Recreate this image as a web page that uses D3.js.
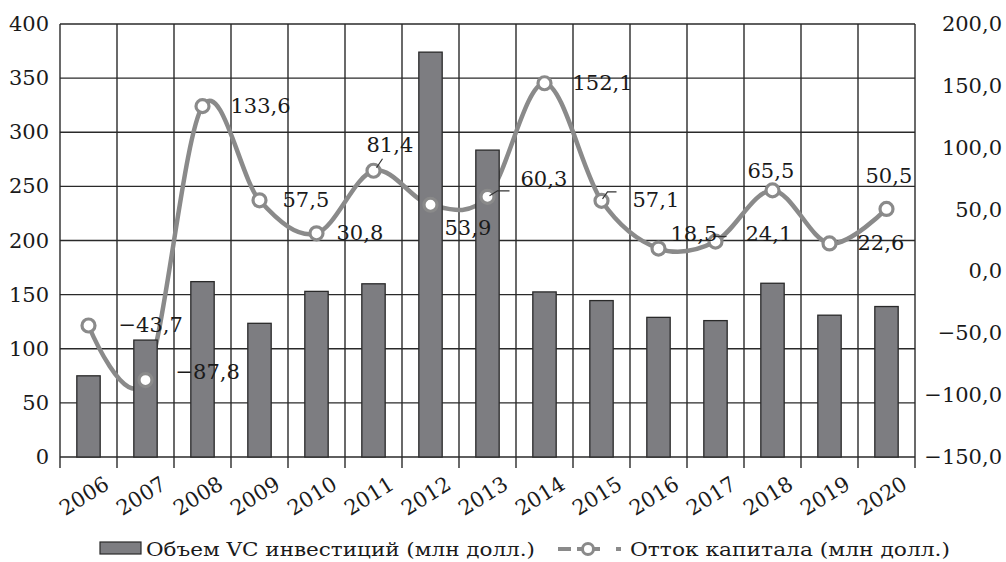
<!DOCTYPE html>
<html>
<head>
<meta charset="utf-8">
<script src="https://cdn.jsdelivr.net/npm/d3@7"></script>
<style>
  html, body { margin: 0; padding: 0; background: #fff; }
  svg { display: block; }
  text { font-family: "DejaVu Serif", serif; fill: #1a1a1a; }
</style>
</head>
<body>
<svg id="chart" width="1006" height="562"></svg>
<script>
// ---- data ----
const years = ["2006","2007","2008","2009","2010","2011","2012","2013","2014","2015","2016","2017","2018","2019","2020"];
const vcInvest = [75, 108, 162, 123.5, 153, 160, 374, 283.5, 152.5, 144.5, 129, 126, 160.5, 131, 139];
const outflow = [-43.7, -87.8, 133.6, 57.5, 30.8, 81.4, 53.9, 60.3, 152.1, 57.1, 18.5, 24.1, 65.5, 22.6, 50.5];
const leftTicks = [0, 50, 100, 150, 200, 250, 300, 350, 400];
const rightTicks = [-150, -100, -50, 0, 50, 100, 150, 200];
const seriesNames = ["Объем VC инвестиций (млн долл.)", "Отток капитала (млн долл.)"];

// label offsets (layout only)
const labelOffsets = [
  [30, 0], [30, -8], [28, 0], [23, 0], [20, 0], [-7, -26], [14, 23], [33, -18],
  [28, 0], [31, -1], [12, -15], [30, -8], [-25, -19], [28, 0], [-21, -33]
];

const fmt = v => (v < 0 ? "\u2212" : "") + Math.abs(v).toFixed(1).replace(".", ",");

// ---- layout ----
const svg = d3.select("#chart");
const L = 60, R = 915, T = 24, B = 457;

const x = d3.scaleBand().domain(years).range([L, R]).paddingInner(0).paddingOuter(0);
const yL = d3.scaleLinear().domain([0, 400]).range([B, T]);
const yR = d3.scaleLinear().domain([-150, 200]).range([B, T]);

const gridColor = "#2a2a2a";
const lineColor = "#8a8a8a";

// horizontal grid
svg.append("g").selectAll("line").data(leftTicks).join("line")
  .attr("x1", L).attr("x2", R)
  .attr("y1", d => yL(d)).attr("y2", d => yL(d))
  .attr("stroke", gridColor).attr("stroke-width", 1.4);

// vertical grid + ticks below
const bounds = years.map(d => x(d)).concat([R]);
svg.append("g").selectAll("line").data(bounds).join("line")
  .attr("x1", d => d).attr("x2", d => d)
  .attr("y1", T).attr("y2", B + 11)
  .attr("stroke", gridColor).attr("stroke-width", 1.4);

// line (drawn under bars)
const line = d3.line()
  .x((d, i) => x(years[i]) + x.bandwidth() / 2)
  .y(d => yR(d))
  .curve(d3.curveCardinal.tension(0));

svg.append("path").datum(outflow)
  .attr("d", line)
  .attr("fill", "none")
  .attr("stroke", lineColor)
  .attr("stroke-width", 4.5);

// bars
const bw = x.bandwidth() * 0.41;
svg.append("g").selectAll("rect").data(vcInvest).join("rect")
  .attr("x", (d, i) => x(years[i]) + x.bandwidth() / 2 - bw / 2)
  .attr("width", bw)
  .attr("y", d => yL(d))
  .attr("height", d => yL(0) - yL(d))
  .attr("fill", "#7d7d81")
  .attr("stroke", "#2a2a2a")
  .attr("stroke-width", 1.3);

// markers
svg.append("g").selectAll("circle").data(outflow).join("circle")
  .attr("cx", (d, i) => x(years[i]) + x.bandwidth() / 2)
  .attr("cy", d => yR(d))
  .attr("r", 6.5)
  .attr("fill", "#fff")
  .attr("stroke", lineColor)
  .attr("stroke-width", 3.2);

// leader lines
const leaderColor = "#333";
const px = i => x(years[i]) + x.bandwidth() / 2;
const leaders = [
  [[px(5) + 3, yR(outflow[5]) - 3], [px(5) + 9, yR(outflow[5]) - 12]],
  [[px(7) + 2, yR(outflow[7]) - 1], [px(7) + 10, yR(outflow[7]) - 6], [px(7) + 22, yR(outflow[7]) - 6]],
  [[px(9) + 1, yR(outflow[9]) - 2], [px(9) + 6, yR(outflow[9]) - 9], [px(9) + 15, yR(outflow[9]) - 9]],
  [[px(10) + 55, yR(outflow[10]) - 12], [px(10) + 68, yR(outflow[10]) - 12]]
];
svg.append("g").selectAll("path").data(leaders).join("path")
  .attr("d", d => d3.line()(d))
  .attr("fill", "none").attr("stroke", leaderColor).attr("stroke-width", 1.2);

// data labels
svg.append("g").selectAll("text").data(outflow).join("text")
  .attr("x", (d, i) => px(i) + labelOffsets[i][0])
  .attr("y", (d, i) => yR(d) + labelOffsets[i][1])
  .attr("dominant-baseline", "central")
  .attr("font-size", 21)
  .text(d => fmt(d));

// left axis labels
svg.append("g").selectAll("text").data(leftTicks).join("text")
  .attr("x", 49).attr("y", d => yL(d))
  .attr("text-anchor", "end").attr("dominant-baseline", "central")
  .attr("font-size", 21)
  .text(d => d);

// right axis labels
svg.append("g").selectAll("text").data(rightTicks).join("text")
  .attr("x", 1002).attr("y", d => yR(d))
  .attr("text-anchor", "end").attr("dominant-baseline", "central")
  .attr("font-size", 21)
  .text(d => fmt(d));

// x labels
svg.append("g").selectAll("text").data(years).join("text")
  .attr("transform", d => `translate(${x(d) + x.bandwidth() / 2 + 14},${B + 18}) rotate(-32)`)
  .attr("text-anchor", "end").attr("dominant-baseline", "hanging")
  .attr("font-size", 21)
  .text(d => d);

// legend
const lg = svg.append("g");
lg.append("rect").attr("x", 100).attr("y", 542).attr("width", 41).attr("height", 12)
  .attr("fill", "#7d7d81").attr("stroke", "#2a2a2a").attr("stroke-width", 1.2);
lg.append("text").attr("x", 146).attr("y", 549).attr("dominant-baseline", "central")
  .attr("font-size", 19).attr("textLength", 389).attr("lengthAdjust", "spacingAndGlyphs")
  .text(seriesNames[0]);
const legSegs = [[558, 571], [577, 600], [616, 621]];
lg.selectAll("line.seg").data(legSegs).join("line")
  .attr("x1", d => d[0]).attr("x2", d => d[1]).attr("y1", 549).attr("y2", 549)
  .attr("stroke", lineColor).attr("stroke-width", 4);
lg.append("circle").attr("cx", 588).attr("cy", 549).attr("r", 5.5)
  .attr("fill", "#fff").attr("stroke", lineColor).attr("stroke-width", 3);
lg.append("text").attr("x", 630).attr("y", 549).attr("dominant-baseline", "central")
  .attr("font-size", 19).attr("textLength", 320).attr("lengthAdjust", "spacingAndGlyphs")
  .text(seriesNames[1]);
</script>
</body>
</html>
